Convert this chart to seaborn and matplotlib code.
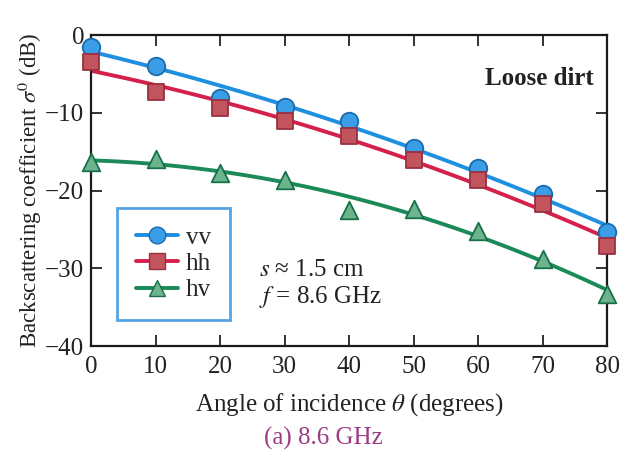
import numpy as np
import pandas as pd
import matplotlib
matplotlib.use("Agg")
import matplotlib.pyplot as plt
from matplotlib.lines import Line2D
import seaborn as sns

angles = [0, 10, 20, 30, 40, 50, 60, 70, 80]
vv = [-1.5, -4.0, -8.1, -9.3, -11.1, -14.5, -17.1, -20.5, -25.3]
hh = [-3.5, -7.3, -9.4, -11.1, -13.0, -16.1, -18.7, -21.7, -27.1]
hv = [-16.3, -16.0, -17.8, -18.6, -22.5, -22.4, -25.2, -28.8, -33.3]
series_names = ["vv", "hh", "hv"]
x_ticks = [0, 10, 20, 30, 40, 50, 60, 70, 80]
y_ticks = [0, -10, -20, -30, -40]

sns.set_theme(style="ticks")
plt.rcParams["font.family"] = ["Liberation Serif", "DejaVu Serif"]
plt.rcParams["mathtext.fontset"] = "stix"

line_colors = {"vv": "#1f8fe0", "hh": "#d4204a", "hv": "#1b8a58"}
face_colors = {"vv": "#3a9de6", "hh": "#c2545e", "hv": "#6cb58c"}
edge_colors = {"vv": "#1a6cb0", "hh": "#9a3040", "hv": "#17704a"}
markers = {"vv": "o", "hh": "s", "hv": "^"}
msizes = {"vv": 160, "hh": 140, "hv": 160}

df = pd.DataFrame({"angle": angles * 3,
                   "sigma": vv + hh + hv,
                   "pol": ["vv"] * 9 + ["hh"] * 9 + ["hv"] * 9})

fig = plt.figure(figsize=(6.37, 4.58), dpi=100)
ax = fig.add_axes([0.143, 0.2445, 0.81, 0.679])

for name in series_names:
    sub = df[df.pol == name]
    sns.regplot(data=sub, x="angle", y="sigma", order=2, ci=None, scatter=False,
                truncate=True, ax=ax,
                line_kws=dict(color=line_colors[name], lw=2.8, zorder=2))
for name in series_names:
    sub = df[df.pol == name]
    sns.scatterplot(data=sub, x="angle", y="sigma", ax=ax, marker=markers[name],
                    s=msizes[name], color=face_colors[name],
                    edgecolor=edge_colors[name], linewidth=1.3, zorder=3,
                    clip_on=False, legend=False)

ax.set_xlim(0, 80)
ax.set_ylim(-40, 0)
ax.set_xticks(x_ticks)
ax.set_yticks(y_ticks)
ax.set_yticklabels(["0", "\u221210", "\u221220", "\u221230", "\u221240"])
ax.tick_params(direction="in", length=8, width=1.3, labelsize=18, colors="#222222",
               top=True, right=True, pad=7)
ax.tick_params(axis="y", pad=5)
for sp in ax.spines.values():
    sp.set_linewidth(1.6)
    sp.set_color("#1a1a1a")

ax.set_xlabel(r"Angle of incidence $\theta$ (degrees)", fontsize=18, color="#222222", labelpad=10)
ax.set_ylabel(r"Backscattering coefficient $\sigma^0$ (dB)", fontsize=16.5, color="#222222", labelpad=1)

ax.text(0.975, 0.86, "Loose dirt", transform=ax.transAxes, ha="right", va="center",
        fontsize=18, fontweight="bold", color="#222222")
ax.text(0.325, 0.245, r"$s$ ≈ 1.5 cm", transform=ax.transAxes, ha="left", va="center",
        fontsize=18, color="#222222")
ax.text(0.325, 0.158, r"$f$ = 8.6 GHz", transform=ax.transAxes, ha="left", va="center",
        fontsize=18, color="#222222")

handles = [Line2D([0], [0], color=line_colors[n], lw=2.8, marker=markers[n],
                  markersize=12 if n != "hh" else 11, markerfacecolor=face_colors[n],
                  markeredgecolor=edge_colors[n]) for n in series_names]
leg = ax.legend(handles, series_names, loc="upper left", bbox_to_anchor=(0.05, 0.445),
                frameon=True, fancybox=False, fontsize=18, handlelength=1.7,
                handletextpad=0.3, labelspacing=0.15, borderpad=0.75, borderaxespad=0)
leg.get_frame().set_edgecolor("#2a8ee0")
leg.get_frame().set_linewidth(2.0)

fig.text(0.507, 0.043, "(a) 8.6 GHz", ha="center", va="center", fontsize=18, color="#9c3a82")

fig.savefig("out.png", dpi=100)
